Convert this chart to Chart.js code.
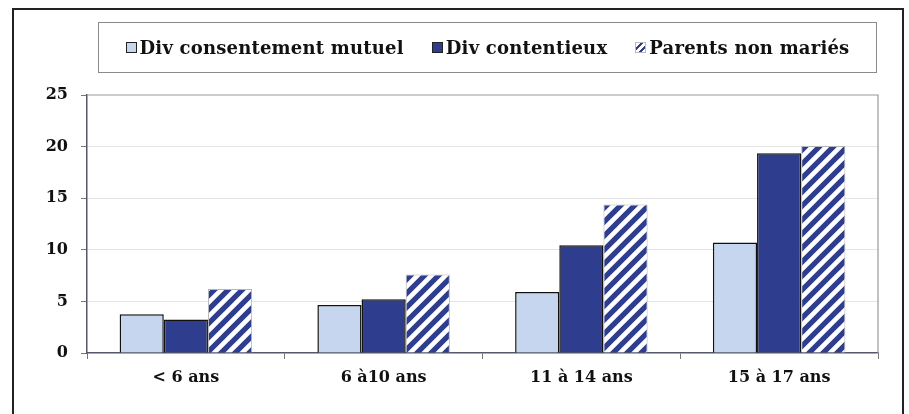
<!DOCTYPE html>
<html>
<head>
  <title>Enfants par âge et type de séparation</title>
  <style>
    body {
      margin: 0;
      padding: 0;
      background-color: #fff;
    }
    .frame {
      position: absolute;
      left: 12px;
      top: 8px;
      width: 892px;
      height: 420px;
      border: 2px solid #222;
      box-sizing: border-box;
    }
    .wrap {
      position: absolute;
      left: 0;
      top: 0;
      width: 909px;
      height: 414px;
    }
    .legend {
      position: absolute;
      left: 98px;
      top: 22px;
      width: 779px;
      height: 51px;
      border: 1px solid #8a8a8a;
      box-sizing: border-box;
      display: flex;
      align-items: center;
      justify-content: center;
      font-family: "DejaVu Serif", serif;
      font-weight: bold;
      font-size: 18px;
      letter-spacing: 0.2px;
      color: #111;
    }
    .item {
      display: flex;
      align-items: center;
      margin: 0 14px;
    }
    .sym {
      width: 9px;
      height: 9px;
      margin-right: 3px;
      border: 1.5px solid #222;
    }
  </style>
</head>
<body>

  <div class="frame"></div>
  <div class="wrap">
    <canvas id="chart" width="909" height="414"></canvas>
  </div>
  <div class="legend" id="legend"></div>

<script src="https://cdn.jsdelivr.net/npm/chart.js"></script>
<script>
  // Données
  const categories = ['< 6 ans', '6 à10 ans', '11 à 14 ans', '15 à 17 ans'];
  const seriesNames = ['Div consentement mutuel', 'Div contentieux', 'Parents non mariés'];
  const mutuel = [3.75, 4.65, 5.9, 10.7];
  const contentieux = [3.25, 5.2, 10.45, 19.35];
  const nonMaries = [6.2, 7.6, 14.4, 20.05];
  const yTicks = [0, 5, 10, 15, 20, 25];

  const clair = '#c6d6ef';
  const fonce = '#2e3d8d';

  // Motif hachuré (rayures diagonales), tuile large pour éviter les raccords
  function makeHatch() {
    const w = 56, h = 56, n = 4;
    const c = document.createElement('canvas');
    c.width = w; c.height = h;
    const g = c.getContext('2d');
    g.fillStyle = '#fff';
    g.fillRect(0, 0, w, h);
    g.strokeStyle = fonce;
    g.lineWidth = 5.2;
    const step = w / n;
    for (let k = -n - 1; k <= n + 1; k++) {
      const x0 = k * step;
      g.beginPath();
      g.moveTo(x0 - 10, h + 10);
      g.lineTo(x0 + w + 10, -10);
      g.stroke();
    }
    return g.createPattern(c, 'repeat');
  }
  const hatch = makeHatch();

  const tickFont = { family: 'DejaVu Serif', weight: 'bold', size: 16 };

  // Cadre de la zone de tracé (haut et droite)
  const plotFrame = {
    id: 'plotFrame',
    beforeDatasetsDraw(chart) {
      const a = chart.chartArea;
      const ctx = chart.ctx;
      ctx.save();
      ctx.strokeStyle = '#9a9a9a';
      ctx.lineWidth = 1.2;
      ctx.beginPath();
      ctx.moveTo(a.left, a.top);
      ctx.lineTo(a.right, a.top);
      ctx.lineTo(a.right, a.bottom);
      ctx.stroke();
      ctx.restore();
    }
  };

  const ctx = document.getElementById('chart').getContext('2d');
  const chart = new Chart(ctx, {
    type: 'bar',
    data: {
      labels: categories,
      datasets: [
        { label: seriesNames[0], data: mutuel, backgroundColor: clair, borderColor: '#111', borderWidth: 1.5 },
        { label: seriesNames[1], data: contentieux, backgroundColor: fonce, borderColor: '#111', borderWidth: 1.5 },
        { label: seriesNames[2], data: nonMaries, backgroundColor: hatch, borderColor: '#b5b5b5', borderWidth: 1 }
      ]
    },
    options: {
      responsive: false,
      animation: false,
      events: [],
      layout: { padding: { top: 95, right: 31, left: 0, bottom: 0 } },
      datasets: {
        bar: { categoryPercentage: 0.67, barPercentage: 1.0 }
      },
      plugins: {
        legend: { display: false },
        tooltip: { enabled: false }
      },
      scales: {
        x: {
          afterFit(s) { s.height = 61; },
          grid: {
            offset: true,
            drawOnChartArea: false,
            drawTicks: true,
            tickLength: 6,
            tickColor: '#777'
          },
          border: { color: '#55576a', width: 1.5 },
          ticks: { font: tickFont, color: '#111', padding: 9 }
        },
        y: {
          min: 0,
          max: 25,
          afterFit(s) { s.width = 87; },
          afterBuildTicks(s) { s.ticks = yTicks.map(v => ({ value: v })); },
          grid: {
            color: c => (c.tick && (c.tick.value === 0 || c.tick.value === 25)) ? 'rgba(0,0,0,0)' : '#e4e4e4',
            tickColor: '#777',
            tickLength: 6,
            lineWidth: 1
          },
          border: { color: '#55576a', width: 1.5 },
          ticks: { font: tickFont, color: '#111', padding: 13 }
        }
      }
    },
    plugins: [plotFrame]
  });

  // Légende HTML
  const legend = document.getElementById('legend');
  chart.data.datasets.forEach(function (ds, i) {
    const item = document.createElement('div');
    item.className = 'item';
    const sym = document.createElement('span');
    sym.className = 'sym';
    if (i === 0) sym.style.background = clair;
    if (i === 1) sym.style.background = fonce;
    if (i === 2) {
      sym.style.background = 'repeating-linear-gradient(135deg, #fff 0 3px, ' + fonce + ' 3px 5px)';
      sym.style.borderColor = '#bbb';
    }
    item.appendChild(sym);
    const txt = document.createElement('span');
    txt.textContent = ds.label;
    item.appendChild(txt);
    legend.appendChild(item);
  });
</script>

</body>
</html>
